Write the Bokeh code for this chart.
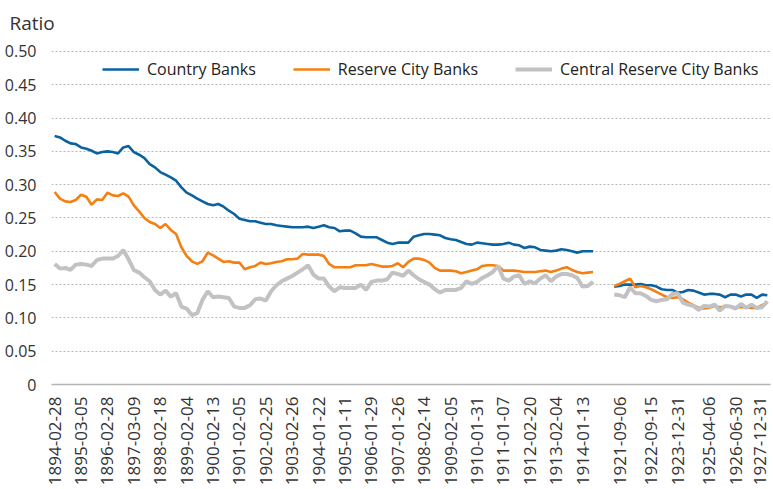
import math
from bokeh.plotting import figure
from bokeh.models import (Range1d, FixedTicker, Legend, LegendItem,
                          ColumnDataSource, NumeralTickFormatter)
from bokeh.embed import file_html
from bokeh.resources import INLINE

# ---------------- data ----------------
tick_labels_1 = ["1894-02-28", "1895-03-05", "1896-02-28", "1897-03-09", "1898-02-18",
                 "1899-02-04", "1900-02-13", "1901-02-05", "1902-02-25", "1903-02-26",
                 "1904-01-22", "1905-01-11", "1906-01-29", "1907-01-26", "1908-02-14",
                 "1909-02-05", "1910-01-31", "1911-01-07", "1912-02-20", "1913-02-04",
                 "1914-01-13"]
tick_index_1 = [0, 5, 10, 15, 20, 25, 30, 35, 40, 45, 50, 55, 60, 65, 70, 75, 80, 85, 90, 95, 100]
tick_labels_2 = ["1921-09-06", "1922-09-15", "1923-12-31", "1925-04-06", "1926-06-30", "1927-12-31"]
tick_index_2 = [107, 113, 118, 124, 129, 133.6]

seg1_start = 0
seg2_start = 106

country_1894_1914 = [
    0.373, 0.371, 0.366, 0.362, 0.361, 0.356, 0.354, 0.351, 0.347, 0.349,
    0.350, 0.349, 0.347, 0.356, 0.358, 0.349, 0.345, 0.340, 0.331, 0.326,
    0.319, 0.315, 0.311, 0.306, 0.296, 0.288, 0.284, 0.279, 0.275, 0.271,
    0.269, 0.271, 0.267, 0.261, 0.256, 0.249, 0.247, 0.245, 0.245, 0.243,
    0.241, 0.241, 0.239, 0.238, 0.237, 0.236, 0.236, 0.236, 0.237, 0.235,
    0.237, 0.239, 0.236, 0.235, 0.230, 0.231, 0.231, 0.227, 0.222, 0.221,
    0.221, 0.221, 0.217, 0.213, 0.211, 0.213, 0.213, 0.213, 0.222, 0.224,
    0.226, 0.226, 0.225, 0.224, 0.220, 0.218, 0.217, 0.214, 0.211, 0.210,
    0.213, 0.212, 0.211, 0.210, 0.210, 0.211, 0.213, 0.210, 0.209, 0.205,
    0.207, 0.206, 0.202, 0.201, 0.200, 0.201, 0.203, 0.202, 0.200, 0.198,
    0.200, 0.200, 0.200]
reserve_1894_1914 = [
    0.289, 0.279, 0.275, 0.274, 0.277, 0.285, 0.282, 0.270, 0.278, 0.277,
    0.288, 0.284, 0.283, 0.287, 0.282, 0.269, 0.260, 0.250, 0.244, 0.241,
    0.235, 0.241, 0.232, 0.226, 0.206, 0.193, 0.185, 0.181, 0.185, 0.198,
    0.194, 0.189, 0.184, 0.185, 0.183, 0.183, 0.173, 0.176, 0.178, 0.183,
    0.181, 0.182, 0.184, 0.185, 0.188, 0.188, 0.189, 0.196, 0.195, 0.195,
    0.195, 0.193, 0.181, 0.176, 0.176, 0.176, 0.176, 0.179, 0.179, 0.179,
    0.181, 0.179, 0.177, 0.177, 0.178, 0.182, 0.176, 0.184, 0.189, 0.189,
    0.187, 0.183, 0.175, 0.171, 0.171, 0.171, 0.170, 0.167, 0.169, 0.171,
    0.173, 0.178, 0.179, 0.179, 0.178, 0.171, 0.171, 0.171, 0.170, 0.169,
    0.169, 0.169, 0.170, 0.171, 0.169, 0.171, 0.174, 0.176, 0.172, 0.169,
    0.167, 0.168, 0.169]
central_1894_1914 = [
    0.181, 0.174, 0.175, 0.172, 0.180, 0.181, 0.180, 0.178, 0.187, 0.189,
    0.189, 0.189, 0.193, 0.202, 0.188, 0.172, 0.168, 0.161, 0.155, 0.142,
    0.135, 0.141, 0.132, 0.137, 0.117, 0.114, 0.104, 0.107, 0.127, 0.140,
    0.131, 0.132, 0.131, 0.130, 0.117, 0.115, 0.115, 0.119, 0.128, 0.129,
    0.126, 0.140, 0.149, 0.155, 0.159, 0.163, 0.168, 0.173, 0.179, 0.165,
    0.159, 0.159, 0.147, 0.140, 0.146, 0.145, 0.145, 0.145, 0.150, 0.142,
    0.154, 0.156, 0.156, 0.158, 0.168, 0.166, 0.163, 0.171, 0.164, 0.158,
    0.154, 0.150, 0.143, 0.138, 0.142, 0.142, 0.142, 0.145, 0.155, 0.151,
    0.154, 0.160, 0.164, 0.169, 0.178, 0.159, 0.156, 0.162, 0.164, 0.151,
    0.155, 0.152, 0.159, 0.164, 0.155, 0.162, 0.166, 0.166, 0.164, 0.160,
    0.147, 0.148, 0.154]

country_1921_1927 = [
    0.147, 0.148, 0.150, 0.150, 0.150, 0.151, 0.149, 0.149, 0.147, 0.143,
    0.142, 0.142, 0.138, 0.139, 0.142, 0.141, 0.138, 0.135, 0.136, 0.136,
    0.135, 0.131, 0.135, 0.135, 0.132, 0.135, 0.135, 0.130, 0.135, 0.134]
reserve_1921_1927 = [
    0.148, 0.151, 0.155, 0.159, 0.146, 0.148, 0.146, 0.143, 0.139, 0.135,
    0.131, 0.130, 0.131, 0.128, 0.123, 0.119, 0.115, 0.114, 0.115, 0.118,
    0.116, 0.117, 0.117, 0.116, 0.116, 0.116, 0.115, 0.115, 0.119, 0.123]
central_1921_1927 = [
    0.135, 0.134, 0.131, 0.146, 0.137, 0.137, 0.133, 0.127, 0.125, 0.127,
    0.128, 0.136, 0.137, 0.123, 0.120, 0.118, 0.112, 0.118, 0.117, 0.120,
    0.111, 0.118, 0.117, 0.114, 0.121, 0.115, 0.120, 0.115, 0.116, 0.125]

y_ticks = [0, 0.05, 0.10, 0.15, 0.20, 0.25, 0.30, 0.35, 0.40, 0.45, 0.50]

# ---------------- build source (NaN break between the two periods) ----------------
nan = float("nan")
x1 = list(range(seg1_start, seg1_start + len(country_1894_1914)))
x2 = list(range(seg2_start, seg2_start + len(country_1921_1927)))
gap_x = (x1[-1] + x2[0]) / 2
src = ColumnDataSource(dict(
    x=x1 + [gap_x] + x2,
    country=country_1894_1914 + [nan] + country_1921_1927,
    reserve=reserve_1894_1914 + [nan] + reserve_1921_1927,
    central=central_1894_1914 + [nan] + central_1921_1927,
))

FONT = "Open Sans"
TXT = "#333333"

# frame extends slightly above 0.50 (no outline) so the title sits higher
p = figure(width=772, height=488, output_backend="svg", toolbar_location=None,
           x_range=Range1d(-0.6, 135.6), y_range=Range1d(0, 0.5165),
           min_border_left=51, min_border_right=2, min_border_top=40,
           min_border_bottom=103, title="Ratio")
p.outline_line_color = None
p.background_fill_color = "white"
p.border_fill_color = "white"

p.title.align = "left"
p.title.offset = -42
p.title.standoff = 10
p.title.text_font = FONT
p.title.text_font_size = "19px"
p.title.text_font_style = "normal"
p.title.text_color = TXT

r1 = p.line("x", "country", source=src, line_color="#0a62a0", line_width=2.6)
r2 = p.line("x", "reserve", source=src, line_color="#f57f12", line_width=2.6)
r3 = p.line("x", "central", source=src, line_color="#c2c2c4", line_width=4)

# x axis
ticks_x = tick_index_1 + tick_index_2
labels_x = tick_labels_1 + tick_labels_2
p.xaxis.ticker = FixedTicker(ticks=ticks_x)
p.xaxis.major_label_overrides = {t: l for t, l in zip(ticks_x, labels_x)}
p.xaxis.major_label_orientation = math.pi / 2
p.xaxis.major_tick_line_color = None
p.xaxis.minor_tick_line_color = None
p.xaxis.axis_line_color = "#b5b5b5"
p.xaxis.axis_line_width = 1.5
p.xaxis.major_label_standoff = 6
p.xaxis.major_label_text_font = FONT
p.xaxis.major_label_text_font_size = "17px"
p.xaxis.major_label_text_color = TXT
p.xgrid.grid_line_color = None

# y axis
p.yaxis.ticker = FixedTicker(ticks=y_ticks)
p.yaxis.formatter = NumeralTickFormatter(format="0.00")
p.yaxis.major_label_overrides = {0: "0"}
p.yaxis.axis_line_color = None
p.yaxis.major_tick_line_color = None
p.yaxis.minor_tick_line_color = None
p.yaxis.major_label_standoff = 9
p.yaxis.major_label_text_font = FONT
p.yaxis.major_label_text_font_size = "16px"
p.yaxis.major_label_text_color = TXT
p.ygrid.ticker = FixedTicker(ticks=y_ticks[1:])
p.ygrid.grid_line_color = "#b8b8b8"
p.ygrid.grid_line_dash = "2 2"
p.ygrid.grid_line_width = 1

legend = Legend(items=[LegendItem(label="Country Banks", renderers=[r1]),
                       LegendItem(label="Reserve City Banks", renderers=[r2]),
                       LegendItem(label="Central Reserve City Banks", renderers=[r3])],
                orientation="horizontal", location=(51, 304),
                border_line_color=None, background_fill_alpha=0,
                padding=0, margin=0, spacing=37, label_standoff=8,
                glyph_width=37, glyph_height=20, label_height=20,
                label_text_font=FONT, label_text_font_size="16px",
                label_text_color="#222222")
p.add_layout(legend)

open("out.html", "w").write(file_html(p, INLINE))
